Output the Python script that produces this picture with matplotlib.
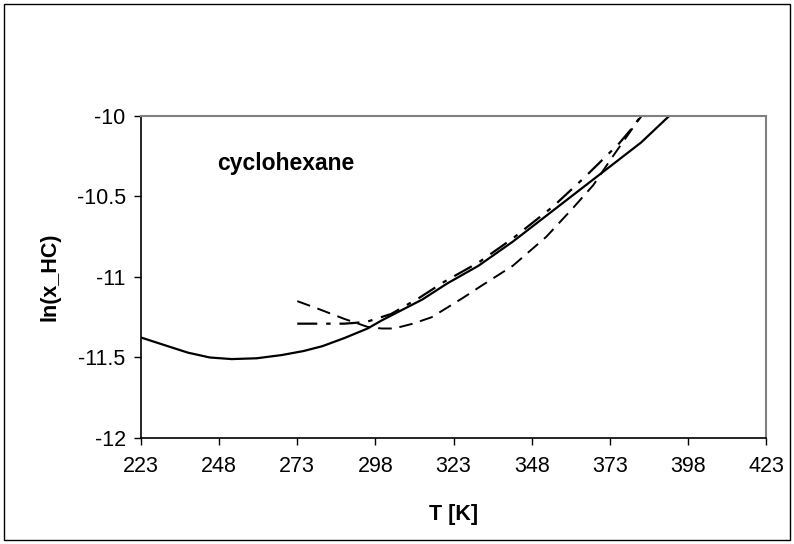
import matplotlib
matplotlib.use("Agg")
import matplotlib.pyplot as plt
from matplotlib.patches import Rectangle

plt.rcParams["font.family"] = ["Liberation Sans", "DejaVu Sans"]

# solid curve
T_solid = [223, 230, 238, 245, 252, 260, 268, 275, 281, 288, 295.5, 300, 306, 313, 321,
           331, 342, 352, 362, 372, 383, 392, 398]
y_solid = [-11.376, -11.42, -11.47, -11.50, -11.51, -11.505, -11.485, -11.46, -11.43, -11.38,
           -11.32, -11.27, -11.21, -11.14, -11.04, -10.93, -10.78, -10.63, -10.48, -10.33,
           -10.165, -10.0, -9.9]

# long dash-dot curve
T_dashdot = [273, 280, 288, 295, 303, 312, 320, 331, 342, 355, 365, 376, 379.5, 383, 388]
y_dashdot = [-11.29, -11.29, -11.29, -11.28, -11.23, -11.13, -11.03, -10.91, -10.76, -10.56,
             -10.38, -10.17, -10.09, -10.0, -9.9]

# dashed curve
T_dash = [273, 280, 288, 295.5, 300, 304, 310, 316, 321, 326, 331.5, 342, 352.7, 361.3, 367.7,
          374, 381.6, 384, 389]
y_dash = [-11.15, -11.20, -11.26, -11.31, -11.32, -11.32, -11.29, -11.25, -11.19, -11.13, -11.06,
          -10.93, -10.75, -10.57, -10.43, -10.25, -10.04, -9.98, -9.88]

xticks = [223, 248, 273, 298, 323, 348, 373, 398, 423]
yticks = [-12, -11.5, -11, -10.5, -10]
ytick_labels = ["-12", "-11.5", "-11", "-10.5", "-10"]

fig = plt.figure(figsize=(7.94, 5.44), dpi=100)
ax = fig.add_axes([0.1776, 0.1949, 0.7872, 0.5919])

ax.plot(T_solid, y_solid, color="black", lw=1.6, ls="-")
ax.plot(T_dashdot, y_dashdot, color="black", lw=1.6, dashes=(9, 4, 2, 4))
ax.plot(T_dash, y_dash, color="black", lw=1.4, dashes=(7, 4))

ax.set_xlim(223, 423)
ax.set_ylim(-12, -10)
ax.set_xticks(xticks)
ax.set_yticks(yticks)
ax.set_yticklabels(ytick_labels)
ax.tick_params(direction="out", length=5, width=1, labelsize=15.5, colors="black")
ax.tick_params(axis="x", pad=8)
ax.tick_params(axis="y", pad=6)

for side in ("left", "bottom"):
    ax.spines[side].set_color("black")
    ax.spines[side].set_linewidth(1.2)
for side in ("top", "right"):
    ax.spines[side].set_color("#808080")
    ax.spines[side].set_linewidth(1.5)

ax.set_xlabel("T [K]", fontsize=15.5, fontweight="bold")
ax.set_ylabel("ln(x_HC)", fontsize=15.5, fontweight="bold")
ax.xaxis.set_label_coords(0.5, -0.205)
ax.yaxis.set_label_coords(-0.1296, 0.5)
ax.text(0.121, 0.853, "cyclohexane", transform=ax.transAxes,
        fontsize=16.5, fontweight="bold", va="center", ha="left")

# outer chart border
fig.patches.append(Rectangle((0.005, 0.007), 0.99, 0.986, transform=fig.transFigure,
                             fill=False, edgecolor="black", lw=1))

fig.savefig("out.png", dpi=100)
